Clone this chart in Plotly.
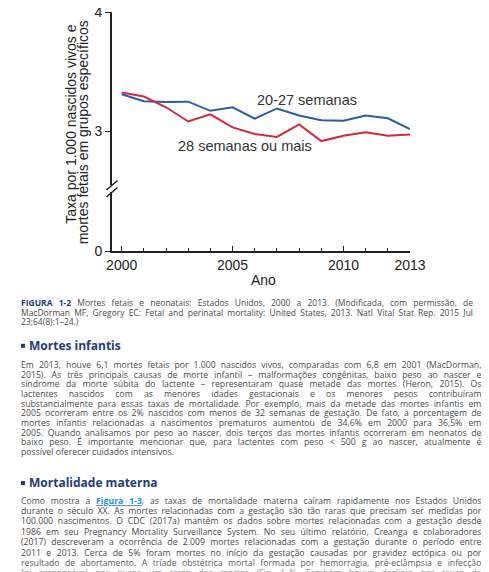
import plotly.graph_objects as go
import subprocess

# ---------------- data ----------------
years = list(range(2000, 2014))
rate_20_27 = [3.31, 3.25, 3.245, 3.247, 3.17, 3.20, 3.105, 3.19, 3.13, 3.09, 3.087, 3.13, 3.107, 3.015]
rate_28_plus = [3.325, 3.29, 3.20, 3.08, 3.14, 3.03, 2.975, 2.95, 3.055, 2.915, 2.96, 2.99, 2.96, 2.97]
series_names = ["20-27 semanas", "28 semanas ou mais"]
x_tick_vals = [2000, 2005, 2010, 2013]
y_top_ticks = [3, 4]
y_bottom_ticks = [0]

# page body has an 8px margin -> figure drawn at (8, 8)
OFF = 8
W, H = 489 - OFF, 572 - OFF


def px(x):
    return (x - OFF) / W


def py(y):
    return 1 - (y - OFF) / H


# ------------- text measuring for justification -------------
_fonts = {}
try:
    from PIL import ImageFont

    def _fc(q):
        return subprocess.run(["fc-match", "-f", "%{file}", q], capture_output=True, text=True).stdout.strip()

    reg_path = _fc("Open Sans:regular")
    bold_path = _fc("Open Sans:bold")
    fr = ImageFont.truetype(reg_path, 100)
    fb = ImageFont.truetype(bold_path, 100)
    if bold_path == reg_path:
        try:
            fb.set_variation_by_name("Bold")
        except Exception:
            pass
    _fonts = {"r": fr, "b": fb}
except Exception:
    _fonts = {}

_cw = {" ": .26, "a": .556, "b": .613, "c": .48, "d": .613, "e": .561, "f": .344, "g": .546, "h": .613,
       "i": .258, "j": .258, "k": .525, "l": .258, "m": .932, "n": .613, "o": .602, "p": .613, "q": .613,
       "r": .408, "s": .479, "t": .353, "u": .613, "v": .5, "w": .774, "x": .523, "y": .5, "z": .468}


def measure(text, bold, size):
    if _fonts:
        f = _fonts["b" if bold else "r"]
        return f.getlength(text) * size / 100.0
    tot = 0
    for ch in text:
        base = ch.lower()
        if ch.isdigit():
            w = .572
        elif base in _cw:
            w = _cw[base] * (1.2 if ch.isupper() else 1)
        elif ch in "áàâãéêíóôõúç":
            w = .57
        else:
            w = .3
        tot += w
    return tot * size * (1.06 if bold else 1)


def esc(s):
    return s.replace("&", "&amp;").replace("<", "&lt;").replace(">", "&gt;")


TEXT_COLOR = "#4a4a4a"
NAVY = "#1d3c7a"
LINK = "#1b95d3"
FONT = "Open Sans"


def build_line(segs, size, target, justify):
    natural = sum(measure(t, st != "r", size) for t, st in segs)
    nsp = sum(t.count(" ") for t, st in segs)
    ws = (target - natural) / nsp if (justify and nsp) else 0
    out = ""
    for t, st in segs:
        if st == "r":
            out += esc(t)
        elif st == "b":
            out += "<span style='color:%s'><b>%s</b></span>" % (NAVY, esc(t))
        elif st == "link":
            out += "<span style='color:%s'><b><u>%s</u></b></span>" % (LINK, esc(t))
    return "<span style='word-spacing:%.3fpx'>%s</span>" % (ws, out)


caption = [
    [("FIGURA 1-2", "b"), (" Mortes fetais e neonatais: Estados Unidos, 2000 a 2013. (Modificada, com permissão, de", "r")],
    [("MacDorman MF, Gregory EC: Fetal and perinatal mortality: United States, 2013. Natl Vital Stat Rep. 2015 Jul", "r")],
    [("23;64(8):1–24.)", "r")],
]
para1 = [
    "Em 2013, houve 6,1 mortes fetais por 1.000 nascidos vivos, comparadas com 6,8 em 2001 (MacDorman,",
    "2015). As três principais causas de morte infantil – malformações congênitas, baixo peso ao nascer e",
    "síndrome da morte súbita do lactente – representaram quase metade das mortes (Heron, 2015). Os",
    "lactentes nascidos com as menores idades gestacionais e os menores pesos contribuíram",
    "substancialmente para essas taxas de mortalidade. Por exemplo, mais da metade das mortes infantis em",
    "2005 ocorreram entre os 2% nascidos com menos de 32 semanas de gestação. De fato, a porcentagem de",
    "mortes infantis relacionadas a nascimentos prematuros aumentou de 34,6% em 2000 para 36,5% em",
    "2005. Quando analisamos por peso ao nascer, dois terços das mortes infantis ocorreram em neonatos de",
    "baixo peso. É importante mencionar que, para lactentes com peso < 500 g ao nascer, atualmente é",
    "possível oferecer cuidados intensivos.",
]
para2 = [
    [("Como mostra a ", "r"), ("Figura 1-3", "link"), (", as taxas de mortalidade materna caíram rapidamente nos Estados Unidos", "r")],
    [("durante o século XX. As mortes relacionadas com a gestação são tão raras que precisam ser medidas por", "r")],
    [("100.000 nascimentos. O CDC (2017a) mantêm os dados sobre mortes relacionadas com a gestação desde", "r")],
    [("1986 em seu Pregnancy Mortality Surveillance System. No seu último relatório, Creanga e colaboradores", "r")],
    [("(2017) descreveram a ocorrência de 2.009 mortes relacionadas com a gestação durante o período entre", "r")],
    [("2011 e 2013. Cerca de 5% foram mortes no início da gestação causadas por gravidez ectópica ou por", "r")],
    [("resultado de abortamento. A tríade obstétrica mortal formada por hemorragia, pré-eclâmpsia e infecção", "r")],
    [("foi responsável por quase um terço das mortes (Fig. 1-4). Também houve declínio nas taxas de", "r")],
]
para2_colors = [TEXT_COLOR] * 6 + ["#5a5a5a", "#9a9a9a"]

annotations = []
shapes = []


def add_text_line(text, y, size, color=TEXT_COLOR, x=19, family=FONT):
    annotations.append(dict(text=text, x=px(x), y=py(y), xref="paper", yref="paper", xanchor="left",
                            yanchor="middle", showarrow=False, font=dict(family=family, size=size, color=color)))


CAP_SIZE = 8.5
BODY_SIZE = 8.7
for i, segs in enumerate(caption):
    add_text_line(build_line(segs, CAP_SIZE, 452, i < len(caption) - 1), 302.7 + i * 9.5, CAP_SIZE)

for i, line in enumerate(para1):
    add_text_line(build_line([(line, "r")], BODY_SIZE, 461, i < len(para1) - 1), 365 + i * 9.67, BODY_SIZE)

for i, segs in enumerate(para2):
    add_text_line(build_line(segs, BODY_SIZE, 461, True), 500.5 + i * 10.4, BODY_SIZE, color=para2_colors[i])

# headings
for title, yc in [("Mortes infantis", 345.5), ("Mortalidade materna", 482.7)]:
    add_text_line("<b>%s</b>" % title, yc, 12, color=NAVY, x=27)
    shapes.append(dict(type="rect", xref="paper", yref="paper", x0=px(21), x1=px(25), y0=py(yc + 2.3),
                       y1=py(yc - 1.7), fillcolor=NAVY, line=dict(width=0)))

# ---------------- chart ----------------
CH_FONT = "Liberation Sans, Arial, sans-serif"
AXC = "#222222"
BLUE = "#2a5ca8"
RED = "#d12a3c"

fig = go.Figure()
# empty trace so that the lower (0) axis segment subplot exists
fig.add_trace(go.Scatter(x=[], y=[], mode="lines", xaxis="x", yaxis="y", showlegend=False, hoverinfo="skip"))
fig.add_trace(go.Scatter(x=years, y=rate_20_27, mode="lines", name=series_names[0],
                         line=dict(color=BLUE, width=2), xaxis="x", yaxis="y2"))
fig.add_trace(go.Scatter(x=years, y=rate_28_plus, mode="lines", name=series_names[1],
                         line=dict(color=RED, width=2), xaxis="x", yaxis="y2"))

# series labels
annotations.append(dict(text=series_names[0], x=px(306.7), y=py(100), xref="paper", yref="paper",
                        showarrow=False, xanchor="center", yanchor="middle",
                        font=dict(family=CH_FONT, size=14.5, color="#333")))
annotations.append(dict(text=series_names[1], x=px(245), y=py(145.7), xref="paper", yref="paper",
                        showarrow=False, xanchor="center", yanchor="middle",
                        font=dict(family=CH_FONT, size=14.5, color="#333")))
# y title (two lines)
annotations.append(dict(text="Taxa por 1.000 nascidos vivos e", x=px(70.7), y=py(124), xref="paper", yref="paper",
                        showarrow=False, textangle=-90, xanchor="center", yanchor="middle",
                        font=dict(family=CH_FONT, size=14, color=AXC)))
annotations.append(dict(text="mortes fetais em grupos específicos", x=px(83.3), y=py(132), xref="paper",
                        yref="paper", showarrow=False, textangle=-90, xanchor="center", yanchor="middle",
                        font=dict(family=CH_FONT, size=14, color=AXC)))
# x title
annotations.append(dict(text="Ano", x=px(263), y=py(279.5), xref="paper", yref="paper",
                        showarrow=False, xanchor="center", yanchor="middle",
                        font=dict(family=CH_FONT, size=14, color=AXC)))

# axis break marks
for y_left, y_right in [(190, 180.5), (197, 187.5)]:
    shapes.append(dict(type="line", xref="paper", yref="paper", x0=px(106.5), x1=px(117.5),
                       y0=py(y_left), y1=py(y_right), line=dict(color=AXC, width=1.5)))

px_per_unit = (131 - 12.3)
fig.update_layout(
    width=W, height=H, margin=dict(l=0, r=0, t=0, b=0, pad=0, autoexpand=False),
    paper_bgcolor="white", plot_bgcolor="white", showlegend=False,
    xaxis=dict(domain=[px(112), px(410)], range=[2000 - (121.7 - 112) / 22.2, 2013], anchor="y",
               automargin=False, ticklabeloverflow="allow",
               showline=True, linecolor=AXC, linewidth=2, showgrid=False, zeroline=False,
               tickmode="array", tickvals=x_tick_vals, ticks="inside", ticklen=5, tickwidth=1.3, tickcolor=AXC,
               minor=dict(dtick=1, tick0=2000, ticks="inside", ticklen=3, tickwidth=1, tickcolor=AXC, showgrid=False),
               tickfont=dict(family=CH_FONT, size=14, color=AXC)),
    yaxis=dict(domain=[py(251), py(192)], range=[0, (251 - 192) / px_per_unit], anchor="x",
               automargin=False, ticklabeloverflow="allow",
               showline=True, linecolor=AXC, linewidth=2, showgrid=False, zeroline=False,
               tickmode="array", tickvals=y_bottom_ticks, ticks="outside", ticklen=5, tickcolor=AXC,
               tickfont=dict(family=CH_FONT, size=14, color=AXC)),
    yaxis2=dict(domain=[py(185), py(12.3)], range=[3 - (185 - 131) / px_per_unit, 4], anchor="x",
                automargin=False, ticklabeloverflow="allow",
                showline=True, linecolor=AXC, linewidth=2, showgrid=False, zeroline=False,
                tickmode="array", tickvals=y_top_ticks, ticks="outside", ticklen=5, tickcolor=AXC,
                tickfont=dict(family=CH_FONT, size=14, color=AXC)),
    annotations=annotations, shapes=shapes,
)

fig.write_html("out.html", config={"displayModeBar": False})
